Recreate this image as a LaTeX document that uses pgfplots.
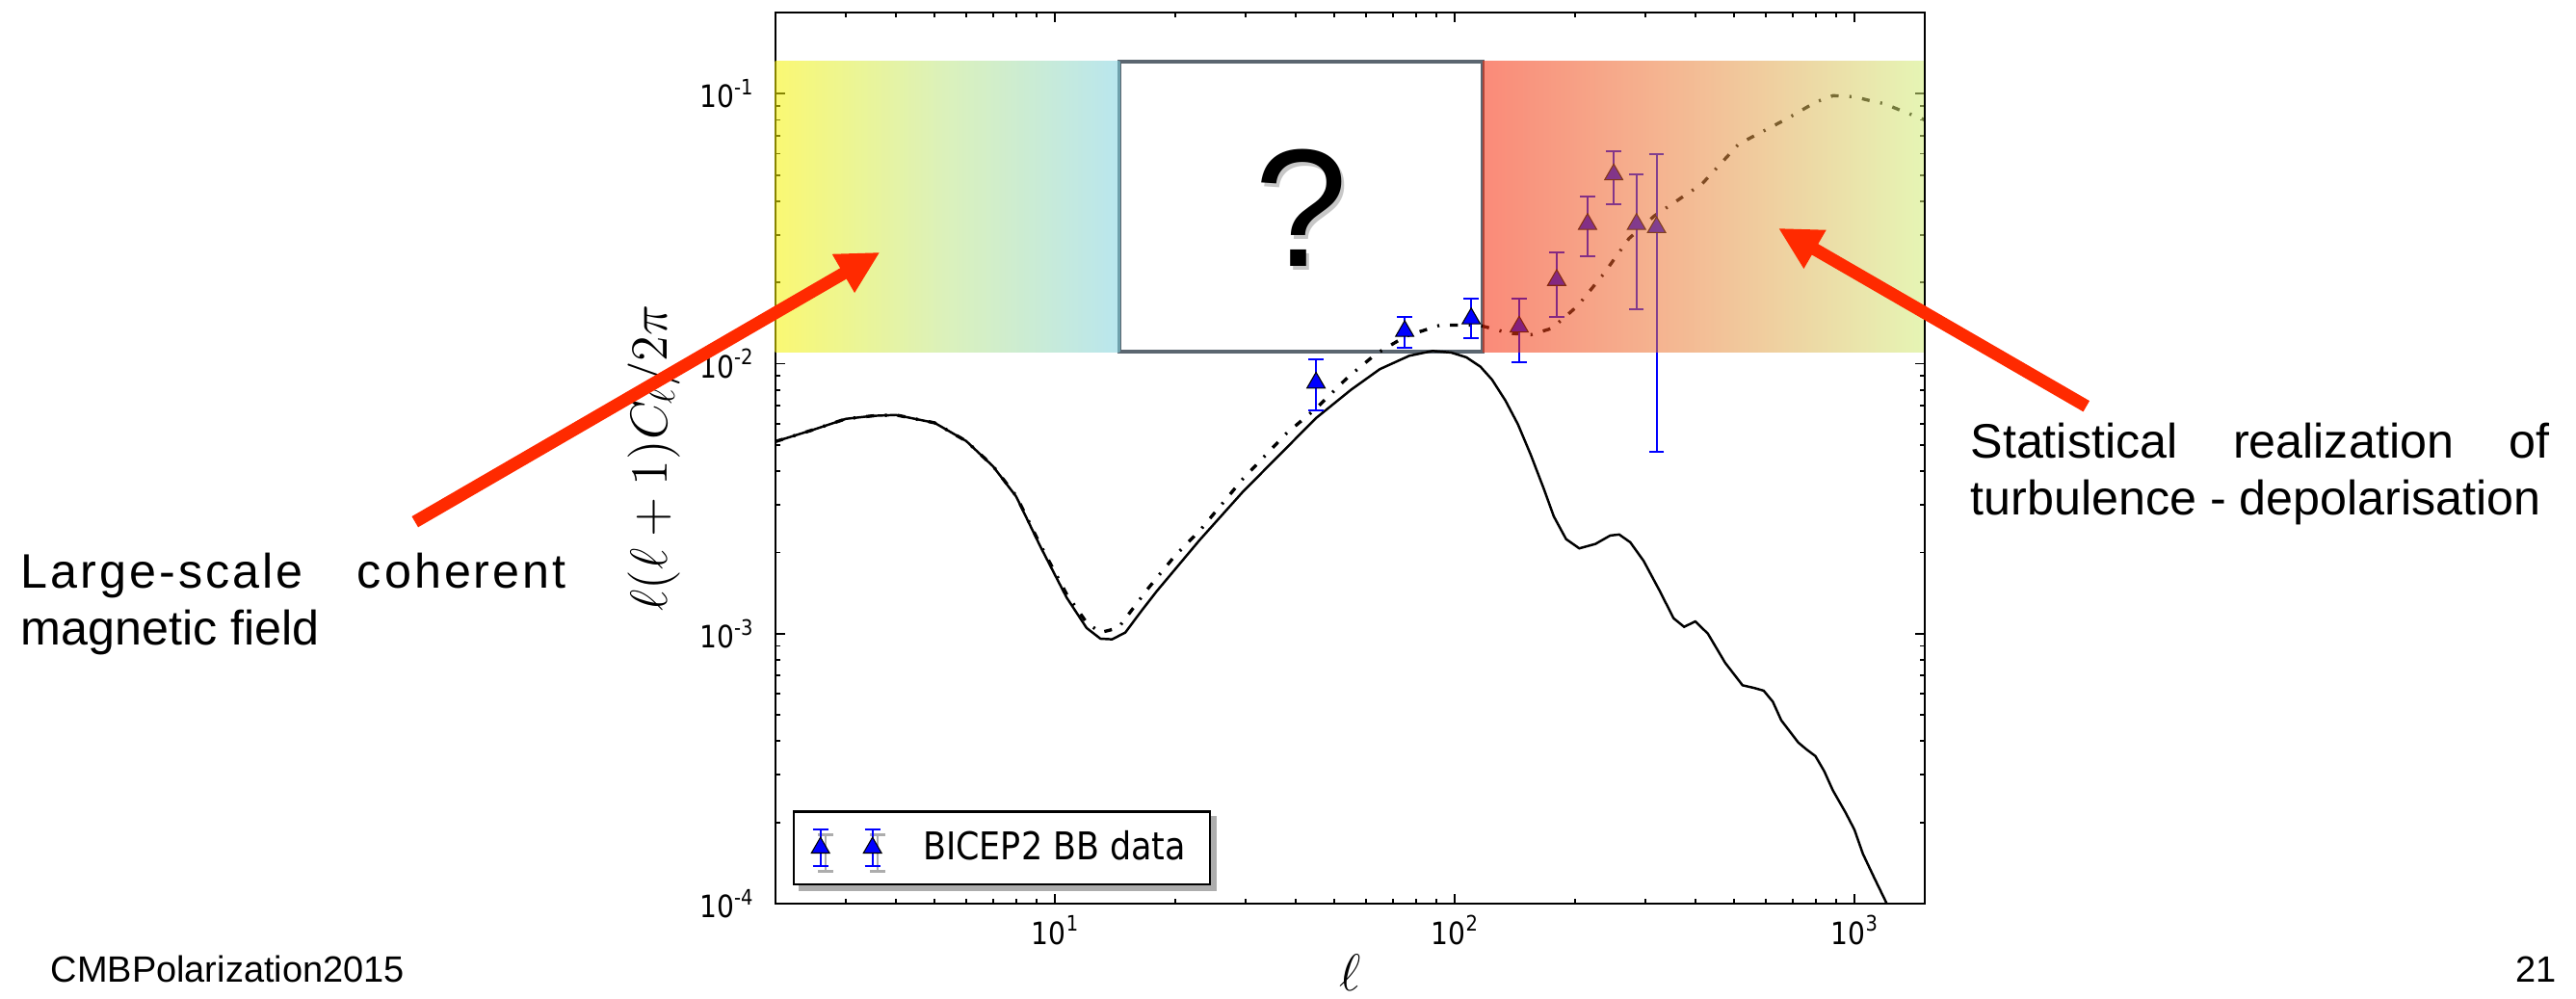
\RequirePackage{fix-cm}
\documentclass[border=0pt]{standalone}
\usepackage[no-math]{fontspec}
\setmainfont{Liberation Sans}
\newfontfamily\mplfont{DejaVu Sans}[FakeStretch=0.88]
\usepackage{pgfplots}
\pgfplotsset{compat=1.18}
\usepackage{pgfplotstable}
\usetikzlibrary{arrows.meta,shadows}

\definecolor{boxgrey}{HTML}{5B6670}
\definecolor{arrowred}{HTML}{FF2A00}
% band colours (laid over the plot at 55% opacity)
\definecolor{lbA}{rgb}{0.964,0.951,0.0}
\definecolor{lbB}{rgb}{0.740,0.900,0.520}
\definecolor{lbC}{rgb}{0.500,0.822,0.879}
\definecolor{rbA}{rgb}{0.964,0.166,0.038}
\definecolor{rbB}{rgb}{0.915,0.537,0.251}
\definecolor{rbC}{rgb}{0.821,0.929,0.465}

\newcommand\ticks{\mplfont\fontsize{9.1}{10}\selectfont}
\newcommand\sups[1]{\raisebox{0.42em}{\fontsize{6.3}{6.3}\selectfont #1}}
\newcommand\labelfont{\fontsize{15.4}{18}\selectfont}

% tensor BB spectrum
\pgfplotstableread{
l y
2.0 0.00515
2.5 0.00571
3.0 0.00625
3.5 0.00641
4.0 0.00646
5.0 0.00604
6.0 0.00517
7.0 0.00417
8.0 0.00322
9.2 0.00210
10.7 0.00136
12.0 0.00105
13.0 0.000958
13.9 0.000953
15.0 0.00101
16.5 0.00122
18.0 0.00144
23.0 0.00222
29.5 0.00335
37.8 0.00485
45.0 0.00629
55.0 0.00800
65.0 0.00955
77.0 0.01070
88.0 0.01115
98.0 0.01100
107 0.01056
116 0.00975
124 0.00873
134 0.00730
144 0.00596
155 0.00460
167 0.00345
177 0.00272
190 0.00224
205 0.00207
225 0.00215
245 0.00231
258 0.00233
275 0.00218
297 0.00186
325 0.00145
353 0.00114
375 0.00106
400 0.00111
430 0.00100
475 0.00078
525 0.000644
560 0.000630
593 0.000615
625 0.000560
656 0.000478
724 0.000395
760 0.000372
799 0.000352
840 0.000310
883 0.000263
951 0.000217
1000 0.000188
1050 0.000153
1120 0.000125
1205 0.000100
1260 0.000085
}\tensor

% tensor + lensing BB spectrum
\pgfplotstableread{
l y
2.0 0.00515
2.5 0.00571
3.0 0.00625
3.5 0.00641
4.0 0.00646
5.0 0.00604
6.0 0.00517
7.0 0.00418
8.0 0.00324
9.2 0.00213
10.7 0.00140
12.0 0.00110
13.0 0.00101
14.4 0.00105
17.1 0.00147
20.0 0.00195
23.1 0.00242
29.5 0.00374
37.8 0.00549
45.0 0.00683
54.0 0.00890
63.5 0.01086
75.5 0.01265
92.0 0.01390
115 0.01390
137 0.01297
155 0.01280
175 0.01352
203 0.01637
236 0.02153
273 0.02910
316 0.03530
416 0.04640
514 0.06520
675 0.08050
800 0.09310
884 0.09840
1000 0.09750
1091 0.09440
1190 0.09180
1300 0.08700
1466 0.08110
1500 0.08000
}\total

% BICEP2 BB band powers
\pgfplotstableread{
l d ep em
45 0.0085 0.0019 0.0018
75 0.0132 0.0017 0.0017
110 0.0147 0.0027 0.0023
145 0.0137 0.0037 0.0036
180 0.0204 0.0055 0.0055
215 0.0329 0.0086 0.0079
250 0.0502 0.0110 0.0112
285 0.0329 0.0173 0.0170
320 0.0320 0.0279 0.0273
}\bicep

\begin{document}
\begin{tikzpicture}
\path[use as bounding box] (0,0) rectangle (26.74,10.37);

% open question box (behind the curves)
\begin{scope}[x=0.01cm,y=-0.01cm,yshift=10.37cm]
  \draw[line width=0.04cm, draw=boxgrey, fill=white] (1163,64) rectangle (1540,365);
  \node[anchor=base, inner sep=0, text=black!40, opacity=0.55] at (1355,281) {\fontsize{49.5}{50}\selectfont ?};
  \node[anchor=base, inner sep=0] at (1351.5,277) {\fontsize{49.5}{50}\selectfont ?};
\end{scope}

\begin{axis}[
  at={(8.05cm,0.99cm)}, anchor=south west,
  scale only axis, width=11.93cm, height=9.25cm,
  xmode=log, ymode=log,
  xmin=2, xmax=1500, ymin=1e-4, ymax=0.2,
  axis line style={line width=0.75pt},
  tick pos=both,
  every tick/.style={black, line width=0.5pt},
  major tick length=0.1cm, minor tick length=0.05cm,
  xtick={10,100,1000},
  xticklabels={10\sups{1},10\sups{2},10\sups{3}},
  minor xtick={3,4,5,6,7,8,9,20,30,40,50,60,70,80,90,200,300,400,500,600,700,800,900},
  ytick={1e-4,1e-3,1e-2,1e-1},
  yticklabels={10\sups{-4},10\sups{-3},10\sups{-2},10\sups{-1}},
  minor ytick={2e-4,3e-4,4e-4,5e-4,6e-4,7e-4,8e-4,9e-4,2e-3,3e-3,4e-3,5e-3,6e-3,7e-3,8e-3,9e-3,2e-2,3e-2,4e-2,5e-2,6e-2,7e-2,8e-2,9e-2},
  tick label style={font=\ticks},
  yticklabel style={xshift=-0.11cm},
  xlabel={$\ell$},
  ylabel={$\ell(\ell+1)C_\ell/2\pi$},
  every axis x label/.style={at={(axis description cs:0.5,-0.0973)}, anchor=base, font=\labelfont},
  every axis y label/.style={at={(axis description cs:-0.0947,0.5)}, rotate=90, anchor=base, font=\labelfont},
  legend style={at={(axis description cs:0.0151,0.0205)}, anchor=south west,
    draw=black, line width=0.7pt, fill=white,
    inner xsep=0.18cm, inner ysep=0.13cm,
    column sep=0.36cm,
    font=\mplfont\fontsize{11.3}{13}\selectfont,
    copy shadow={shadow xshift=0.055cm, shadow yshift=-0.055cm, fill=black!32, draw=black!32}},
]
\addplot[black, line width=0.7pt, forget plot] table[x=l,y=y] {\tensor};
\addplot[black, line width=0.95pt, dash pattern=on 2.3pt off 3.2pt on 0.6pt off 3.2pt, forget plot] table[x=l,y=y] {\total};
\addplot[blue, only marks, mark=triangle*, mark size=3.1pt,
  mark options={fill=blue, draw=black, line width=0.3pt, solid},
  error bars/.cd, y dir=both, y explicit,
  error bar style={blue, line width=0.55pt},
  error mark options={rotate=90, blue, mark size=2.2pt, line width=0.55pt},
  /pgfplots/legend image code/.code={
    \draw[blue, line width=0.55pt] (0cm,-0.19cm) -- (0cm,0.19cm)
      (-0.08cm,-0.19cm) -- (0.08cm,-0.19cm) (-0.08cm,0.19cm) -- (0.08cm,0.19cm)
      (0.54cm,-0.19cm) -- (0.54cm,0.19cm)
      (0.46cm,-0.19cm) -- (0.62cm,-0.19cm) (0.46cm,0.19cm) -- (0.62cm,0.19cm);
    \draw[draw=none, mark=triangle*, mark size=3.1pt, mark options={fill=blue, draw=black, line width=0.3pt}]
      plot coordinates {(0cm,0cm) (0.54cm,0cm)};
  },
] table[x=l, y=d, y error plus=ep, y error minus=em] {\bicep};
\addlegendentry{BICEP2 BB data}
\end{axis}

\begin{scope}[x=0.01cm,y=-0.01cm,yshift=10.37cm]
  % translucent colour bands
  \shade[left color=lbA, right color=lbC, middle color=lbB, opacity=0.55] (805,64) rectangle (1163,366);
  \shade[left color=rbA, right color=rbC, middle color=rbB, opacity=0.55] (1540,64) rectangle (1998,366);
  % arrows
  \draw[arrowred, line width=0.13cm, -{Triangle[length=0.44cm, width=0.43cm]}] (431,542) -- (914,262);
  \draw[arrowred, line width=0.13cm, -{Triangle[length=0.44cm, width=0.43cm]}] (2167,422) -- (1847,237);
  % annotations
  \node[anchor=base west, inner sep=0] at (21,611)
    {\fontsize{14.3}{17}\selectfont\hbox to 5.66cm{\addfontfeature{LetterSpace=6}Large-scale\hfill coherent}};
  \node[anchor=base west, inner sep=0] at (21,670) {\fontsize{14.3}{17}\selectfont magnetic field};
  \node[anchor=base west, inner sep=0] at (2046,476)
    {\fontsize{14.3}{17}\selectfont\hbox to 6.01cm{Statistical\hfill realization\hfill of}};
  \node[anchor=base west, inner sep=0] at (2046,535) {\fontsize{14.3}{17}\selectfont turbulence - depolarisation};
  % footer
  \node[anchor=base west, inner sep=0] at (52,1020) {\fontsize{10.8}{12}\selectfont CMBPolarization2015};
  \node[anchor=base east, inner sep=0] at (2656,1020) {\fontsize{10.8}{12}\selectfont 21};
\end{scope}
\end{tikzpicture}
\end{document}
